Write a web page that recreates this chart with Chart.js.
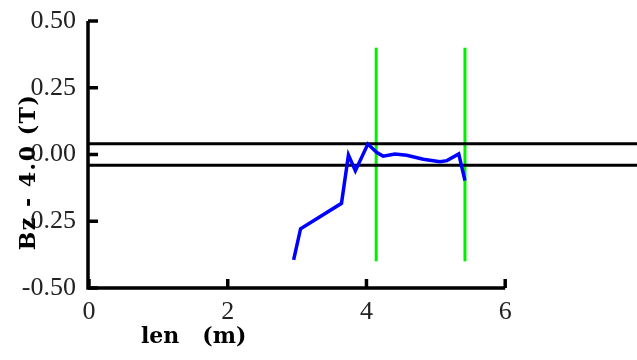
<!DOCTYPE html>
<html>
<head>
<meta charset="utf-8">
<script src="https://cdn.jsdelivr.net/npm/chart.js@4.4.1/dist/chart.umd.min.js"></script>
<style>
html, body { margin: 0; padding: 0; background: #fff; }
#wrap { width: 637px; height: 360px; }
</style>
</head>
<body>
<div id="wrap"><canvas id="c" width="637" height="360"></canvas></div>
<script>
// field along the length
const lenVals = [2.95, 3.05, 3.64, 3.74, 3.84, 4.02, 4.15, 4.24, 4.41, 4.58, 4.82, 5.06, 5.16, 5.33, 5.42];
const bzVals  = [-0.395, -0.278, -0.183, -0.002, -0.061, 0.039, 0.007, -0.006, 0.002, -0.003, -0.018, -0.027, -0.023, 0.002, -0.098];

const bandLevels = [0.04, -0.04];   // black tolerance lines
const markerX = [4.14, 5.42];       // green limits
const markerSpan = [-0.4, 0.4];

const xTicks = [0, 2, 4, 6];
const yTicks = [0.5, 0.25, 0, -0.25, -0.5];
const xRange = [0, 7.9];
const yRange = [-0.5, 0.5];
const xAxisEnd = 6;

const serif = "'Liberation Serif', 'DejaVu Serif', serif";
const titleFont = "'DejaVu Serif', serif";

let ds = [];
ds.push({
    data: lenVals.map((x, i) => ({ x: x, y: bzVals[i] })),
    borderColor: '#0000ff', borderWidth: 3.5, pointRadius: 0, tension: 0
});
bandLevels.forEach(v => {
    ds.push({
        data: [{ x: xRange[0], y: v }, { x: xRange[1], y: v }],
        borderColor: '#000', borderWidth: 3, pointRadius: 0
    });
});
markerX.forEach(v => {
    ds.push({
        data: [{ x: v, y: markerSpan[0] }, { x: v, y: markerSpan[1] }],
        borderColor: '#00ee00', borderWidth: 3, pointRadius: 0
    });
});

// axes lines, inward ticks and titles
const axesDraw = {
    id: 'axesDraw',
    afterDatasetsDraw(chart) {
        let ctx = chart.ctx;
        let xs = chart.scales.x, ys = chart.scales.y;
        let x0 = xs.getPixelForValue(0) - 1;
        let yb = ys.getPixelForValue(yRange[0]);
        ctx.save();
        ctx.strokeStyle = '#000';
        ctx.lineWidth = 3.5;
        ctx.beginPath();
        ctx.moveTo(x0, ys.getPixelForValue(yRange[1]));
        ctx.lineTo(x0, yb);
        ctx.lineTo(xs.getPixelForValue(xAxisEnd), yb);
        ctx.stroke();
        yTicks.forEach(v => {
            let p = ys.getPixelForValue(v);
            ctx.beginPath(); ctx.moveTo(x0, p); ctx.lineTo(x0 + 10, p); ctx.stroke();
        });
        xTicks.forEach(v => {
            let p = xs.getPixelForValue(v);
            ctx.beginPath(); ctx.moveTo(p, yb); ctx.lineTo(p, yb - 9); ctx.stroke();
        });

        ctx.fillStyle = '#000';
        ctx.font = "bold 22px " + titleFont;
        ctx.textAlign = 'left';
        ctx.textBaseline = 'alphabetic';
        ctx.fillText('len   (m)', 141, 343);

        ctx.translate(35, 172);
        ctx.rotate(-Math.PI / 2);
        ctx.font = "bold 22px " + titleFont;
        ctx.letterSpacing = '1.5px';
        ctx.textAlign = 'center';
        ctx.fillText('Bz - 4.0 (T)', 0, 0);
        ctx.restore();
    }
};

new Chart(document.getElementById('c'), {
    type: 'line',
    data: { datasets: ds },
    options: {
        responsive: false,
        animation: false,
        layout: { padding: { top: 21, right: 0, bottom: 0, left: 0 } },
        plugins: { legend: { display: false }, tooltip: { enabled: false } },
        scales: {
            x: {
                type: 'linear', min: xRange[0], max: xRange[1],
                afterFit: s => { s.height = 72; s.paddingLeft = 0; s.paddingRight = 0; },
                afterBuildTicks: s => { s.ticks = xTicks.map(v => ({ value: v })); },
                grid: { display: false, drawTicks: false },
                border: { display: false },
                ticks: {
                    padding: 9, maxRotation: 0, autoSkip: false,
                    color: '#222', font: { family: serif, size: 26 },
                    callback: v => String(v)
                }
            },
            y: {
                type: 'linear', min: yRange[0], max: yRange[1],
                afterFit: s => { s.width = 89; s.paddingTop = 0; s.paddingBottom = 0; },
                afterBuildTicks: s => { s.ticks = yTicks.map(v => ({ value: v })); },
                grid: { display: false, drawTicks: false },
                border: { display: false },
                ticks: {
                    padding: 13, autoSkip: false,
                    color: '#222', font: { family: serif, size: 26 },
                    callback: v => v.toFixed(2)
                }
            }
        }
    },
    plugins: [axesDraw]
});
</script>
</body>
</html>
